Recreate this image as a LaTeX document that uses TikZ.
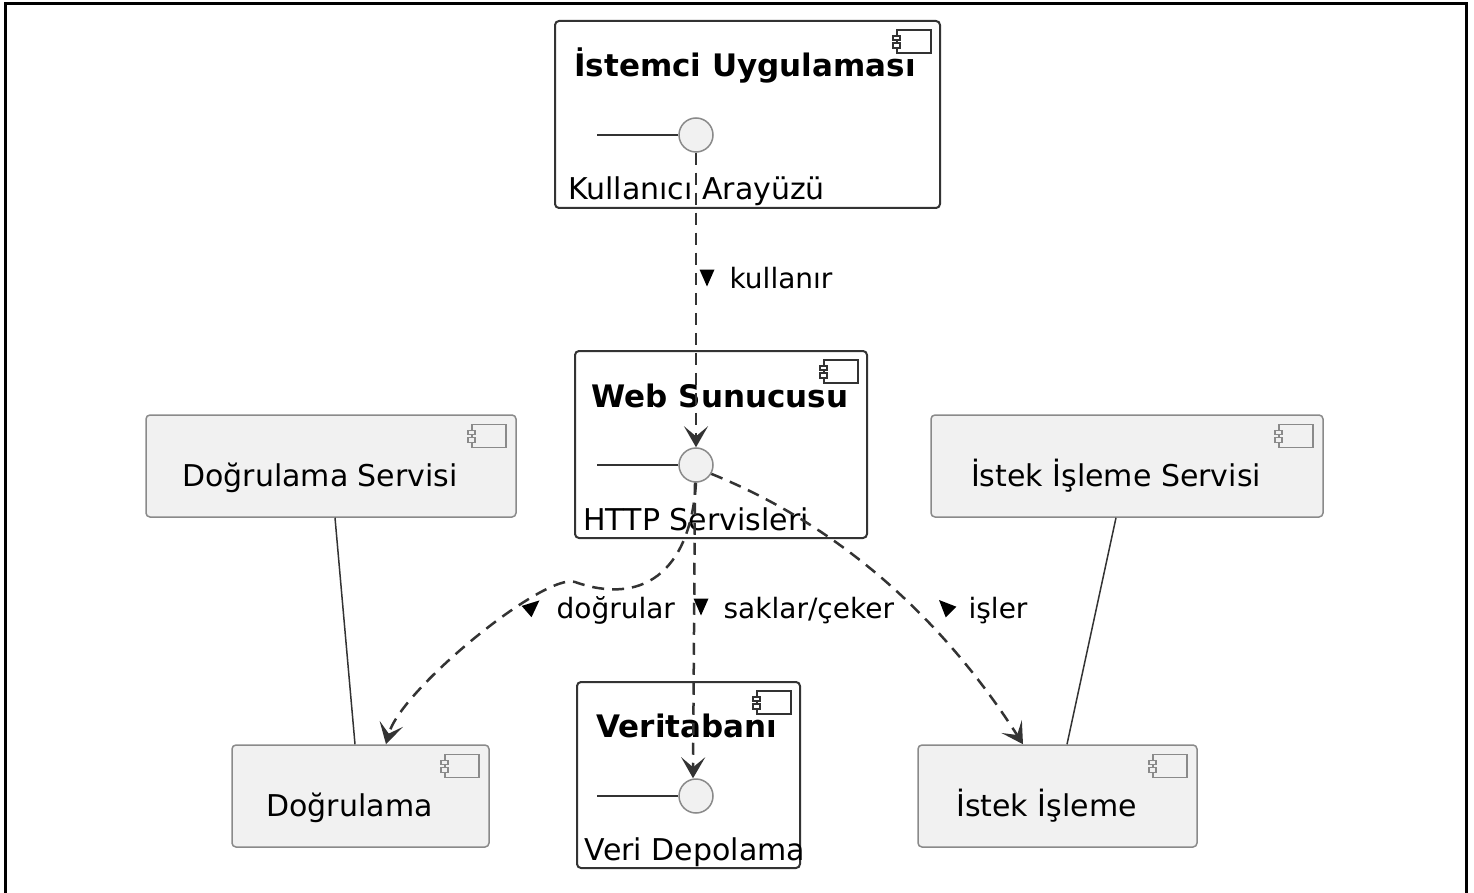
\documentclass[tikz,border=0pt]{standalone}
\usepackage{fontspec}
\setmainfont{DejaVu Sans}
\usetikzlibrary{arrows.meta}
\definecolor{boxgray}{HTML}{F1F1F1}
\definecolor{edgegray}{HTML}{8A8A8A}
\definecolor{ink}{HTML}{333333}
\begin{document}
\begin{tikzpicture}[x=1pt,y=-1pt,font=\fontsize{30}{36}\selectfont,
	comp/.style={draw=edgegray,line width=1.5pt,fill=boxgray,rounded corners=4pt,minimum height=102pt,
		text height=46pt,text depth=6pt,execute at end node=\hspace*{22pt}},
	cont/.style={draw=ink,line width=2pt,fill=white,rounded corners=4pt},
	title/.style={anchor=base,font=\fontsize{31}{36}\selectfont\bfseries},
	port/.style={circle,draw=edgegray,line width=1.5pt,fill=boxgray,minimum size=34pt,inner sep=0pt},
	stem/.style={draw=ink,line width=2pt},
	link/.style={draw=ink,line width=1.5pt},
	dep/.style={draw=ink,line width=2.5pt,dash pattern=on 12pt off 8pt,-{Stealth[length=21pt,width=24pt,inset=10pt]}},
	deplabel/.style={anchor=base west,font=\fontsize{28}{34}\selectfont},
	pics/icon/.style args={#1/#2}{code={
		\draw[draw=#1,fill=#2,line width=1.5pt] (-34,0) rectangle (0,23);
		\draw[draw=#1,fill=#2,line width=1.5pt] (-38,6) rectangle (-31,10) (-38,13) rectangle (-31,18);}},
	pics/dirmark/.style={code={\fill[black] (-7.5,-8.5) -- (7.5,-8.5) -- (0,8.5) -- cycle;}}]
	\useasboundingbox (0,0) rectangle (1474,893);
	\draw[line width=3pt] (5.5,893) -- (5.5,3.5) -- (1466.5,3.5) -- (1466.5,893);
	% containers
	\node[cont,minimum width=385pt,minimum height=187pt] (cli) at (747.5,114.5) {};
	\node[cont,minimum width=292pt,minimum height=187pt] (web) at (721,444.5) {};
	\node[cont,minimum width=223pt,minimum height=186pt] (db) at (688.5,775) {};
	\pic at ([shift={(-10,10)}]cli.north east) {icon=ink/white};
	\pic at ([shift={(-10,10)}]web.north east) {icon=ink/white};
	\pic at ([shift={(-10,10)}]db.north east) {icon=ink/white};
	\node[title] (clititle) at (745,77) {İstemci Uygulaması};
	\node[title] (webtitle) at (720,407) {Web Sunucusu};
	\node[title] (dbtitle) at (687,737) {Veritabanı};
	\node[port] (ui) at (696,135) {};
	\node[port] (http) at (696,465) {};
	\node[port] (store) at (696,796) {};
	\draw[stem] (ui.west) -- ++(-81,0);
	\draw[stem] (http.west) -- ++(-81,0);
	\draw[stem] (store.west) -- ++(-81,0);
	\node[anchor=base] (uilab) at (696.5,200) {Kullanıcı Arayüzü};
	\node[anchor=base] (httplab) at (696,530) {HTTP Servisleri};
	\node[anchor=base] (storelab) at (695,860) {Veri Depolama};
	% services
	\node[comp,minimum width=370pt] (dsrv) at (331,466) {Doğrulama Servisi};
	\node[comp,minimum width=392pt] (isrv) at (1127,466) {İstek İşleme Servisi};
	\node[comp,minimum width=257pt] (dval) at (360.5,796) {Doğrulama};
	\node[comp,minimum width=279pt] (ival) at (1057.5,796) {İstek İşleme};
	\foreach \n in {dsrv,isrv,dval,ival}
		\pic at ([shift={(-11,10)}]\n.north east) {icon=edgegray/boxgray};
	\draw[link] ([xshift=4pt]dsrv.south) -- ([xshift=-5.5pt]dval.north);
	\draw[link] ([xshift=-11pt]isrv.south) -- ([xshift=9.5pt]ival.north);
	% dependencies
	\draw[dep] (ui) -- (http)
		node[deplabel] (uses) at (725,288) {kullanır};
	\draw[dep] ([xshift=-1pt]http.south) -- ([xshift=-3pt]store.north)
		node[deplabel] (stores) at (719,618) {saklar/çeker};
	\draw[dep] (http.south) .. controls (690,575) and (640,605) .. (575,582)
		.. controls (545,572) and (400,690) .. ([xshift=25.5pt]dval.north)
		node[deplabel] (checks) at (552,618) {doğrular};
	\draw[dep] (http.-30) .. controls (850,530) and (950,630) .. ([xshift=-34.5pt]ival.north)
		node[deplabel] (handles) at (964,618) {işler};
	\pic at (707,278) {dirmark};
	\pic at (701,607) {dirmark};
	\pic[rotate=131] at (533,606) {dirmark};
	\pic[rotate=225] at (945,606) {dirmark};
\end{tikzpicture}
\end{document}
